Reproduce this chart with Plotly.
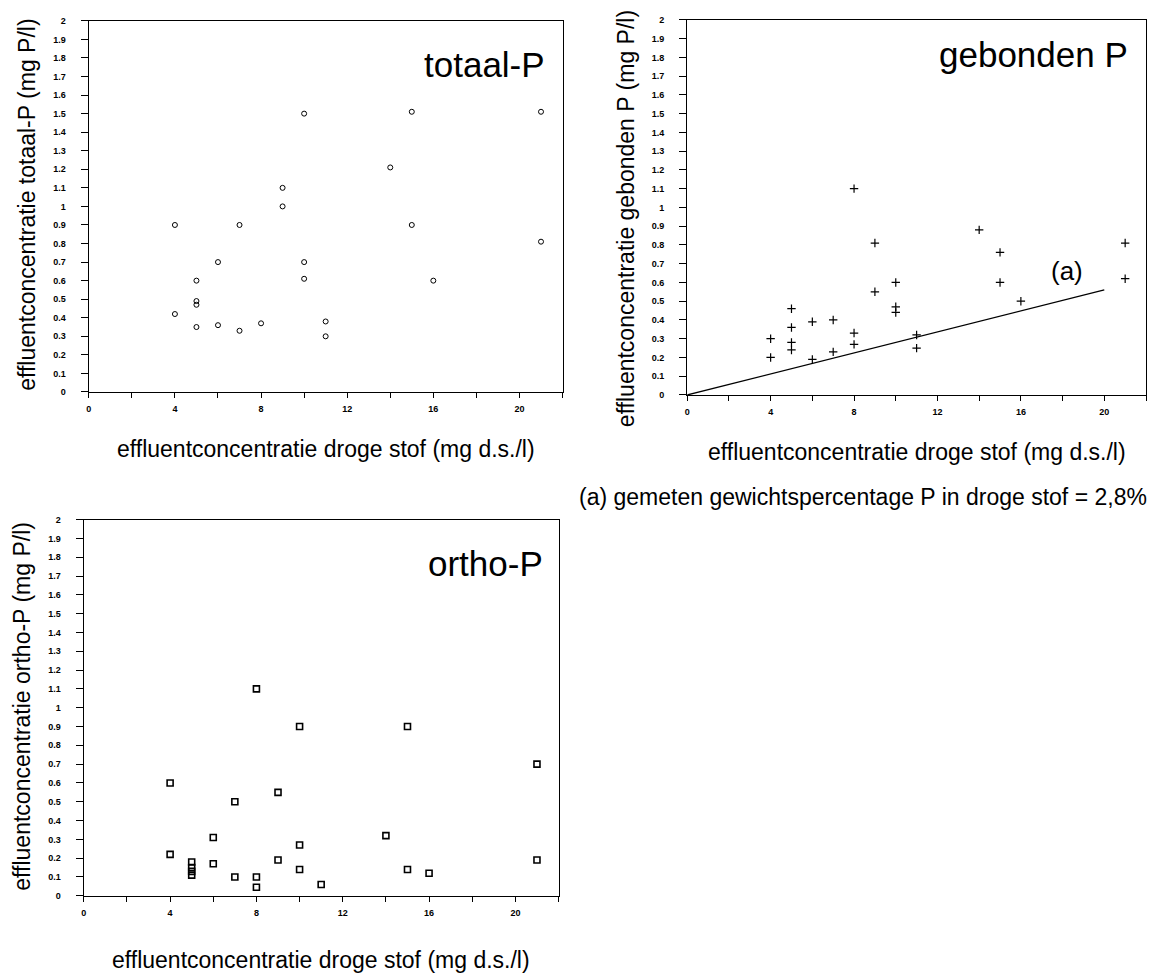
import plotly.graph_objects as go

# Effluent dry-solids concentration (mg d.s./l) and phosphorus fractions (mg P/l)
x_totaal = [4, 4, 5, 5, 5, 5, 6, 6, 7, 7, 8, 9, 9, 10, 10, 10, 11, 11, 14, 15, 15, 16, 21, 21]
totaal_p = [0.90, 0.42, 0.60, 0.49, 0.47, 0.35, 0.70, 0.36, 0.90, 0.33, 0.37, 1.10, 1.00,
            1.50, 0.70, 0.61, 0.38, 0.30, 1.21, 1.51, 0.90, 0.60, 1.51, 0.81]

x_gebonden = [4, 4, 5, 5, 5, 5, 6, 6, 7, 7, 8, 8, 8, 9, 9, 10, 10, 10, 11, 11, 14, 15, 15, 16, 21, 21]
gebonden_p = [0.30, 0.20, 0.46, 0.36, 0.28, 0.24, 0.39, 0.19, 0.40, 0.23, 1.10, 0.33, 0.27,
              0.81, 0.55, 0.60, 0.47, 0.44, 0.32, 0.25, 0.88, 0.76, 0.60, 0.50, 0.81, 0.62]

x_ortho = [4, 4, 5, 5, 5, 5, 6, 6, 7, 7, 8, 8, 8, 9, 9, 10, 10, 10, 11, 14, 15, 15, 16, 21, 21]
ortho_p = [0.60, 0.22, 0.18, 0.15, 0.13, 0.11, 0.31, 0.17, 0.50, 0.10, 1.10, 0.10, 0.045,
           0.55, 0.19, 0.90, 0.27, 0.14, 0.06, 0.32, 0.90, 0.14, 0.12, 0.70, 0.19]

# Measured weight fraction of P in dry solids: 2,8 %
p_fraction = 0.028
x_line = [0, 20]
y_line = [p_fraction * v for v in x_line]

x_title = "effluentconcentratie droge stof (mg d.s./l)"
y_titles = ["effluentconcentratie totaal-P (mg P/l)",
            "effluentconcentratie gebonden P (mg P/l)",
            "effluentconcentratie ortho-P (mg P/l)"]
panel_labels = ["totaal-P", "gebonden P", "ortho-P"]
footnote = "(a) gemeten gewichtspercentage P in droge stof = 2,8%"

W, H = 1151, 976
FONT = "Arial, Liberation Sans, Helvetica, sans-serif"
TITLE_SIZE = 23

# Plot areas in pixels: (left, right, top, bottom)
boxes = [(86, 561, 16, 391), (686, 1146, 15, 394), (81, 557, 520, 900)]
# vertical centre of each rotated y-axis title, in pixels
y_title_mid = [202, 216, 708]


def px_x(p):
    return p / W


def px_y(p):
    return 1 - p / H


fig = go.Figure()

fig.add_trace(go.Scatter(x=x_totaal, y=totaal_p, mode="markers", xaxis="x", yaxis="y",
                         marker=dict(symbol="circle-open", size=5, color="black",
                                     line=dict(width=1, color="black")),
                         showlegend=False))
fig.add_trace(go.Scatter(x=x_gebonden, y=gebonden_p, mode="markers", xaxis="x2", yaxis="y2",
                         marker=dict(symbol="cross-thin-open", size=6, color="black",
                                     line=dict(width=1.2, color="black")),
                         showlegend=False))
fig.add_trace(go.Scatter(x=x_line, y=y_line, mode="lines", xaxis="x2", yaxis="y2",
                         line=dict(color="black", width=1.3), showlegend=False))
fig.add_trace(go.Scatter(x=x_ortho, y=ortho_p, mode="markers", xaxis="x3", yaxis="y3",
                         marker=dict(symbol="square-open", size=6, color="black",
                                     line=dict(width=1.6, color="black")),
                         showlegend=False))

layout = dict(
    width=W, height=H,
    margin=dict(l=0, r=0, t=0, b=0),
    paper_bgcolor="white", plot_bgcolor="white",
    font=dict(family=FONT, color="black"),
    showlegend=False,
)

annotations = []
for i, (l, r, t, b) in enumerate(boxes):
    sfx = "" if i == 0 else str(i + 1)
    layout["xaxis" + sfx] = dict(
        domain=[px_x(l), px_x(r)], range=[0, 22], anchor="y" + sfx,
        tick0=0, dtick=4, ticks="outside", ticklen=5, tickwidth=1, tickcolor="black",
        minor=dict(dtick=2, ticks="outside", ticklen=5, tickwidth=1, tickcolor="black"),
        showline=True, linecolor="black", linewidth=1.4, mirror=True,
        showgrid=False, zeroline=False,
        tickfont=dict(size=9, family=FONT, weight="bold"), ticklabelstandoff=3,
    )
    layout["yaxis" + sfx] = dict(
        domain=[px_y(b), px_y(t)], range=[0, 2], anchor="x" + sfx,
        tick0=0, dtick=0.1, ticks="outside", ticklen=7, tickwidth=1, tickcolor="black",
        showline=True, linecolor="black", linewidth=1.2, mirror=True,
        showgrid=False, zeroline=False,
        tickfont=dict(size=9, family=FONT, weight="bold"), ticklabelstandoff=13,
    )
    # axis titles
    annotations.append(dict(text=y_titles[i], xref="paper", yref="paper",
                            x=px_x(l - 62), y=px_y(y_title_mid[i]), textangle=-90,
                            showarrow=False, xanchor="center", yanchor="middle",
                            font=dict(size=TITLE_SIZE, family=FONT)))
    annotations.append(dict(text=x_title, xref="paper", yref="paper",
                            x=px_x((l + r) / 2), y=px_y(b + (58 if i < 2 else 65)),
                            showarrow=False, xanchor="center", yanchor="middle",
                            font=dict(size=TITLE_SIZE, family=FONT)))

# panel labels, placed in the upper right of each plot area
label_pos = [(545, 60), (1130, 50), (543, 564)]
for text, (xp, yp) in zip(panel_labels, label_pos):
    annotations.append(dict(text=text, xref="paper", yref="paper", x=px_x(xp), y=px_y(yp),
                            showarrow=False, xanchor="right", yanchor="middle",
                            font=dict(size=35, family=FONT)))

# line label (a) next to the end of the 2,8 % line
annotations.append(dict(text="(a)", xref="x2", yref="y2", x=18.2, y=0.66,
                        showarrow=False, xanchor="center", yanchor="middle",
                        font=dict(size=26, family=FONT)))

annotations.append(dict(text=footnote, xref="paper", yref="paper", x=px_x(862), y=px_y(497),
                        showarrow=False, xanchor="center", yanchor="middle",
                        font=dict(size=TITLE_SIZE, family=FONT)))

layout["annotations"] = annotations
fig.update_layout(**layout)
fig.write_html("out.html")
